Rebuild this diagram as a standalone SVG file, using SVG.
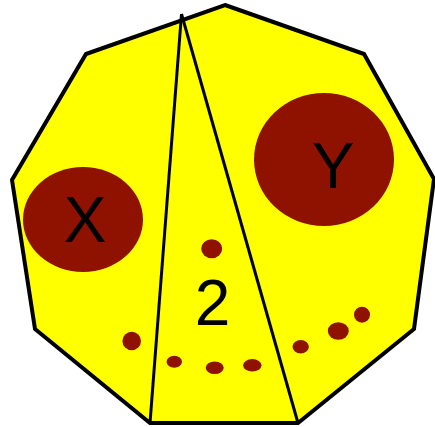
<svg xmlns="http://www.w3.org/2000/svg" width="435" height="427" viewBox="0 0 435 427">
<style>
.shape{fill:#ffff00;stroke:#000;stroke-width:4;stroke-linejoin:miter}
.div{stroke:#000;stroke-width:3;fill:none;stroke-linecap:butt}
.blob{fill:#8f1100}
.lbl{font-family:"Liberation Sans",Arial,sans-serif;font-size:64px;fill:#000;text-anchor:middle}
</style>
<g id="nonagon">
<polygon class="shape" points="225,5 364,54 434,179 414,329 298,423 150,423 35,329 12,180 86,54"/>
</g>
<g id="connectors">
<line class="div" x1="181.5" y1="14" x2="150" y2="423"/>
<line class="div" x1="181.5" y1="14" x2="298" y2="423"/>
</g>
<g id="nodeX">
<ellipse class="blob" cx="83" cy="219.5" rx="60" ry="52.5"/>
<text class="lbl" x="85" y="242">X</text>
</g>
<g id="nodeY">
<ellipse class="blob" cx="324" cy="159.5" rx="70" ry="66.5"/>
<text class="lbl" x="333" y="188">Y</text>
</g>
<g id="node2">
<text class="lbl" x="212.5" y="325">2</text>
</g>
<g id="dots">
<ellipse class="blob" cx="211.7" cy="248.8" rx="10.5" ry="9.5"/>
<ellipse class="blob" cx="131.7" cy="341" rx="9.3" ry="9.2"/>
<ellipse class="blob" cx="174.3" cy="361.7" rx="7.7" ry="6"/>
<ellipse class="blob" cx="214.7" cy="367.7" rx="9" ry="6.3"/>
<ellipse class="blob" cx="252.3" cy="365.3" rx="9.2" ry="6.2"/>
<ellipse class="blob" cx="300.7" cy="346.7" rx="8.2" ry="6.7"/>
<ellipse class="blob" cx="338.3" cy="331" rx="10.5" ry="8.8"/>
<ellipse class="blob" cx="362" cy="314.7" rx="8" ry="8"/>
</g>
</svg>
